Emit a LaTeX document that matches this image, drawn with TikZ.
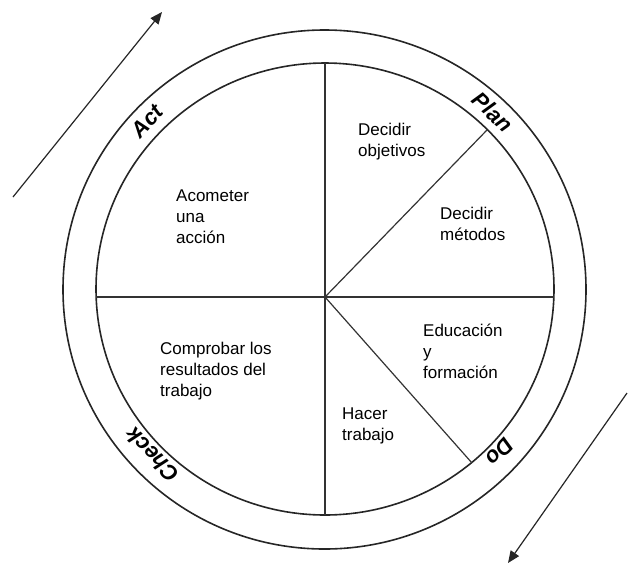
\documentclass[tikz,border=0pt]{standalone}
\usepackage{fontspec}
\setmainfont{Liberation Sans}
\usetikzlibrary{arrows.meta}
\begin{document}
\begin{tikzpicture}[x=1pt,y=-1pt,
  ring/.style={line width=1.6pt, draw=black!85},
  divider/.style={line width=1.2pt, draw=black!80},
  txt/.style={anchor=north west, inner sep=0pt, align=left, font=\fontsize{17}{21}\selectfont},
  phase/.style={inner sep=0pt, font=\fontsize{22}{24}\selectfont\bfseries\itshape},
  cyc/.style={line width=1.2pt, draw=black!85, -{Triangle[length=12pt,width=10pt]}}]
\useasboundingbox (0,0) rectangle (628,566);
% rings
\draw[ring] (324.5,289.5) ellipse [x radius=261.5, y radius=259.5];
\draw[ring] (325,289) ellipse [x radius=229, y radius=226];
% divider points
\coordinate (c) at (325,297);
\coordinate (top) at (325,63);
\coordinate (bot) at (325,515);
\coordinate (lft) at (96.2,297);
\coordinate (rgt) at (553.8,297);
\coordinate (ur) at (487,130);
\coordinate (lr) at (472,463);
\draw[divider] (top) -- (bot);
\draw[divider] (lft) -- (rgt);
\draw[divider] (c) -- (ur);
\draw[divider] (c) -- (lr);
% sector texts
\node[txt] (t1) at (358,123) {Decidir\\objetivos};
\node[txt] (t2) at (440,207) {Decidir\\métodos};
\node[txt] (t3) at (176,190) {Acometer\\una\\acción};
\node[txt] (t4) at (160,342) {Comprobar los\\resultados del\\trabajo};
\node[txt] (t5) at (342,408) {Hacer\\trabajo};
\node[txt] (t6) at (423,324) {Educación\\y\\formación};
% phase labels
\node[phase, rotate=47] (act) at (147,121) {Act};
\node[phase, rotate=-43] (plan) at (493,112) {Plan};
\node[phase, rotate=134] (check) at (152,455) {Check};
\node[phase, rotate=-133] (do) at (500,452) {Do};
% cycle arrows
\coordinate (a1s) at (13,197);
\coordinate (a1e) at (162,12);
\coordinate (a2s) at (627,393);
\coordinate (a2e) at (508,563);
\draw[cyc] (a1s) -- (a1e);
\draw[cyc] (a2s) -- (a2e);
\end{tikzpicture}
\end{document}
